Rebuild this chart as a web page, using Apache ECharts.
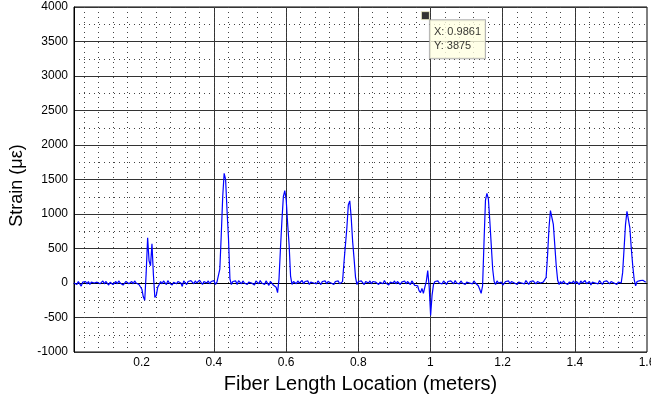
<!DOCTYPE html>
<html>
<head>
<meta charset="utf-8">
<script src="https://cdn.jsdelivr.net/npm/echarts@6/dist/echarts.min.js"></script>
<style>
html, body { margin: 0; padding: 0; background: #fff; }
#chart { width: 651px; height: 396px; }
</style>
</head>
<body>
<div id="chart"></div>
<script>
// sampled strain trace, one value every xStep metres from xStart
var xStart = 0.0125;
var xStep = 0.004;
var strain = [
    0, 12, -22, 22, -12, -45, 12, 0, 22, -12,
    22, -22, 12, 30, 0, -22, 12, 22, -12, 0,
    30, -12, 22, 0, -30, 12, 35, -22, 0, 22,
    -12, 30, 0, 22, -30, -55, 22, 35, -12, 12,
    22, -12, 30, 0, -22, -22, -45, -90, -200, -250,
    150, 656, 320, 250, 567, 120, -210, -180, -60, -22,
    22, -12, 30, 12, -22, 35, 0, 22, -30, 12,
    30, -12, 22, 35, 0, -50, 30, 12, -22, 22,
    12, 35, 22, -12, 30, 0, 22, 40, 12, -22,
    22, 35, 0, 30, -12, 22, 12, 35, -22, 12,
    0, 200, 700, 1250, 1590, 1500, 1050, 650, 60, -22,
    22, 0, 30, -22, 35, 12, -12, 30, 0, 22,
    -22, 12, 35, 0, 22, -30, 30, 12, -12, 35,
    0, 22, -22, 30, 12, -35, 22, 0, -30, -40,
    -60, -140, 60, 500, 900, 1250, 1338, 1200, 850, 550,
    100, -22, 22, 12, -12, 30, 0, 22, 35, -12,
    22, 0, 30, -22, 12, 35, 0, 22, -12, 30,
    12, -22, 22, 0, 30, -12, 22, 35, 0, 12,
    -22, 22, 12, 30, -12, 0, 20, 300, 550, 800,
    1130, 1190, 950, 600, 350, 80, -22, 22, 0, 30,
    12, -22, 22, 35, 0, 30, -12, 22, 0, 12,
    30, -22, 12, 22, -12, 35, 0, 22, -30, 12,
    22, 0, 30, -12, 22, 35, -22, 12, 0, 30,
    -12, 22, 0, -22, 30, 12, -35, -22, -40, -110,
    -140, -80, -150, -60, 20, 180, -50, -470, -180, -20,
    22, 45, 30, 0, 22, -12, 30, 12, -22, 22,
    0, 30, 12, -12, 35, 0, 22, -12, 30, 0,
    22, -22, 12, 35, 0, 22, -12, 30, 0, -22,
    -40, -90, -150, -40, 600, 1200, 1300, 1220, 900, 550,
    200, 22, -22, 30, 0, 22, 12, -30, -40, 22,
    12, 30, -12, 22, 35, 0, 22, -22, 12, 30,
    0, 22, -12, 35, 12, -22, 22, 0, 30, 12,
    -12, 22, 35, 0, -22, 12, 0, 80, 400, 800,
    1050, 1060, 850, 550, 250, 40, -22, 22, -12, 30,
    0, 22, -22, 12, 35, 0, 30, -12, 22, 12,
    -22, 30, 0, 22, 35, -12, 12, 22, -30, 12,
    30, 0, 22, -12, 35, 12, -22, 22, 0, 30,
    12, -12, 22, 35, 0, 22, -22, 12, -12, 0,
    150, 500, 850, 1040, 1030, 800, 500, 250, 50, -40,
    22, 0, 35, 30, 40, 22, 12
];

var xLabelTicks = [0.2, 0.4, 0.6, 0.8, 1.0, 1.2, 1.4, 1.6];
var xSolidLines = [0.4, 0.6, 0.8, 1.0, 1.2, 1.4];
var cursorPoint = [0.9861, 3875];

var font = 'Liberation Sans, Arial, sans-serif';

var lineData = [];
for (var i = 0; i < strain.length; i++) {
    lineData.push([+(xStart + i * xStep).toFixed(4), strain[i]]);
}

// dotted vertical grid every 0.04 m
var xDotted = [];
for (var k = 1; k < 40; k++) {
    xDotted.push(+(k * 0.04).toFixed(2));
}

var chart = echarts.init(document.getElementById('chart'), null, { renderer: 'canvas' });

var dotted = { color: '#444', width: 1, type: [1, 4] };

var option = {
    animation: false,
    backgroundColor: '#fff',
    grid: {
        left: 74, right: 4, top: 7, bottom: 44,
        outerBoundsMode: 'none',
        containLabel: false,
        show: true, borderColor: '#000', borderWidth: 1
    },
    xAxis: [{
        type: 'value',
        min: xStart,
        max: 1.6,
        name: 'Fiber Length Location (meters)',
        nameLocation: 'middle',
        nameGap: 22,
        nameTextStyle: { fontFamily: font, fontSize: 20, color: '#000' },
        axisLine: { show: true, lineStyle: { color: '#000' } },
        axisTick: { show: false, customValues: xSolidLines },
        axisLabel: {
            customValues: xLabelTicks,
            fontFamily: font, fontSize: 12, color: '#000', margin: 5,
            formatter: function (v) { return String(+v.toFixed(1)); }
        },
        splitLine: { show: true, lineStyle: { color: '#333', width: 1 } }
    }, {
        type: 'value',
        min: xStart,
        max: 1.6,
        position: 'bottom',
        axisLine: { show: false },
        axisTick: { show: false, customValues: xDotted },
        axisLabel: { show: false, customValues: xDotted },
        splitLine: { show: true, lineStyle: dotted }
    }],
    yAxis: {
        type: 'value',
        min: -1000,
        max: 4000,
        interval: 500,
        name: 'Strain (\u03bc\u03b5)',
        nameLocation: 'middle',
        nameGap: 30,
        nameTextStyle: { fontFamily: font, fontSize: 18, color: '#000', padding: [0, 12, 0, 0] },
        axisLine: { show: true, lineStyle: { color: '#000' } },
        axisTick: { show: false },
        axisLabel: {
            fontFamily: font, fontSize: 12, color: '#000', margin: 6,
            formatter: function (v) { return String(v); }
        },
        splitLine: { show: true, lineStyle: { color: '#333', width: 1 } },
        minorTick: { show: false, splitNumber: 2 },
        minorSplitLine: { show: true, lineStyle: dotted }
    },
    series: [{
        type: 'line',
        xAxisIndex: 0,
        data: lineData,
        showSymbol: false,
        lineStyle: { color: '#0000ff', width: 1.2 },
        z: 3
    }, {
        type: 'scatter',
        xAxisIndex: 0,
        data: [cursorPoint],
        symbol: 'rect',
        symbolSize: 8,
        itemStyle: { color: '#000', borderColor: '#f2f2c8', borderWidth: 1 },
        label: {
            show: true,
            position: [9, 9],
            formatter: function (p) {
                return 'X: ' + p.value[0] + '\nY: ' + p.value[1];
            },
            fontFamily: font,
            fontSize: 11,
            lineHeight: 14,
            color: '#000',
            backgroundColor: '#ffffe1',
            borderColor: '#a0a0a0',
            borderWidth: 1,
            padding: [5, 4, 5, 4]
        },
        z: 5
    }]
};

chart.setOption(option);
</script>
</body>
</html>
